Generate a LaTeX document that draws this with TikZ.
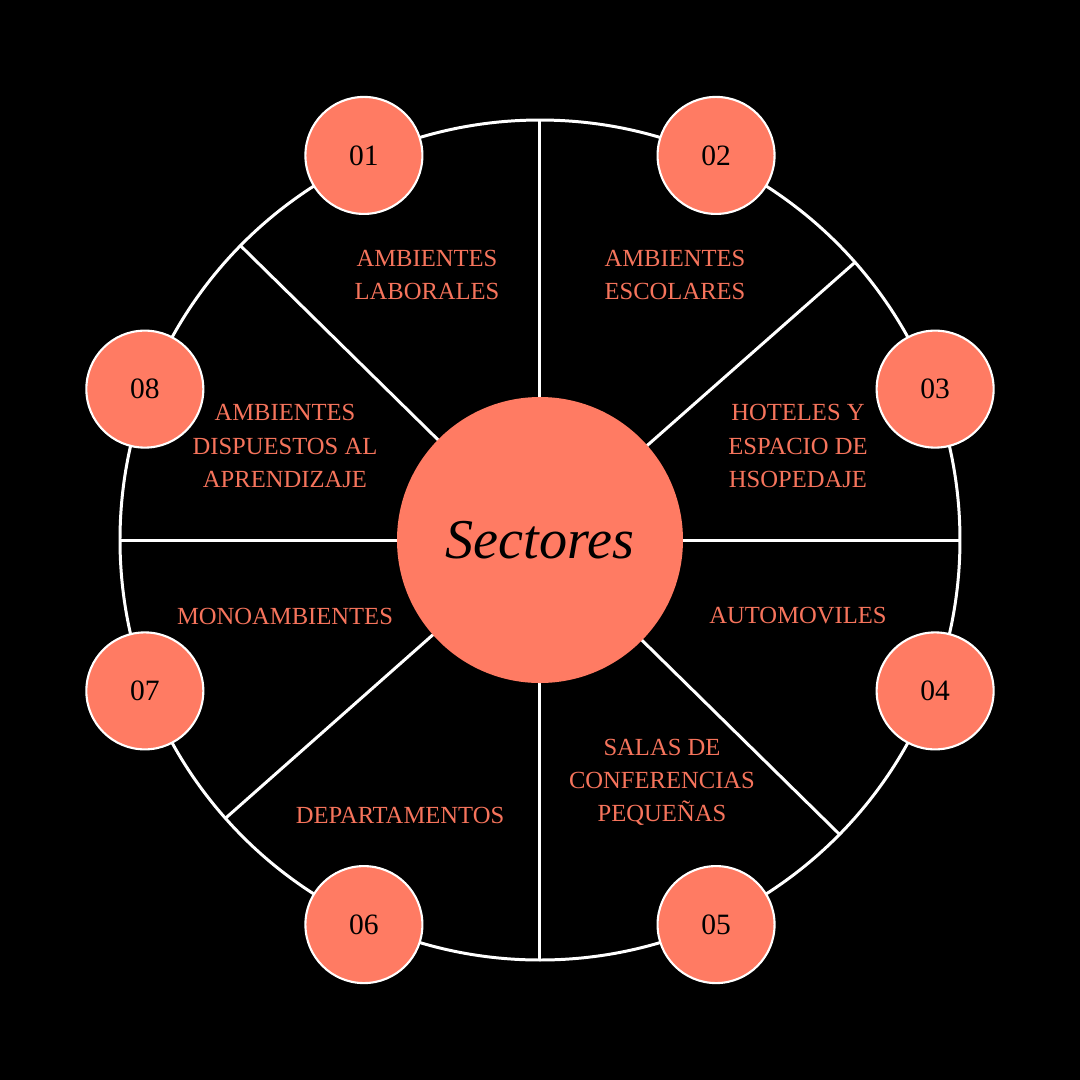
\documentclass[tikz,border=0pt]{standalone}
\usepackage{fontspec}
\setmainfont{Liberation Serif}
\usepackage{tikz}
\usetikzlibrary{positioning, calc}
\definecolor{salmon}{RGB}{255, 123, 99}
\definecolor{salmontext}{RGB}{246, 116, 92}

\tikzset{
  numdot/.style={circle, fill=salmon, draw=white, line width=0.6pt, minimum size=11.7mm, inner sep=0pt, font=\fontsize{8.4}{10}\selectfont},
  sectorlabel/.style={text=salmontext, align=center, font=\fontsize{7}{9.4}\selectfont},
  spoke/.style={white, line width=0.85pt}
}

\begin{document}
\begin{tikzpicture}[x=0.1mm, y=0.1mm]
  \fill[black] (-540,-540) rectangle (540,540);

  % outer ring and spokes
  \draw[spoke] (0,0) circle (420);
  \coordinate (hub) at (0,0);
  \foreach \a [count=\i] in {90, 41.4, 0, -44.5, -90, -138.5, 180, 135.5} {
    \coordinate (rim\i) at (\a:420);
    \draw[spoke] (hub) -- (rim\i);
  }

  \node[circle, fill=salmon, minimum size=28.6mm, inner sep=0pt, font=\fontsize{16}{18}\selectfont\itshape] (sect) at (hub) {Sectores};

  % numbered dots
  \foreach \a/\n in {114.6/01, 65.4/02, 20.9/03, -20.9/04, -65.4/05, -114.6/06, 200.9/07, 159.1/08} {
    \node[numdot] (n\n) at (\a:423) {\n};
  }

  \node[sectorlabel] (lab1) at (-113, 265.5) {AMBIENTES\\LABORALES};
  \node[sectorlabel] (lab2) at (135, 265.5) {AMBIENTES\\ESCOLARES};
  \node[sectorlabel] (lab3) at (258, 94) {HOTELES Y\\ESPACIO DE\\HSOPEDAJE};
  \node[sectorlabel] (lab4) at (258, -76) {AUTOMOVILES};
  \node[sectorlabel] (lab5) at (122, -242) {SALAS DE\\CONFERENCIAS\\PEQUEÑAS};
  \node[sectorlabel] (lab6) at (-140, -275) {DEPARTAMENTOS};
  \node[sectorlabel] (lab7) at (-255, -76) {MONOAMBIENTES};
  \node[sectorlabel] (lab8) at (-255, 94) {AMBIENTES\\DISPUESTOS AL\\APRENDIZAJE};
\end{tikzpicture}
\end{document}
